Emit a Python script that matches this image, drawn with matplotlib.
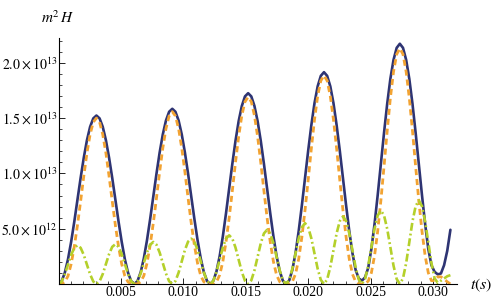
import numpy as np
import matplotlib
matplotlib.use('Agg')
import matplotlib.pyplot as plt
from matplotlib.ticker import FixedLocator, MultipleLocator

# Datos (unidades de 1e13), muestreo uniforme en t
dt = 0.000253
blue = [0, 0.026, 0.102, 0.223, 0.381, 0.564, 0.762, 0.959, 1.142, 1.300, 1.421, 1.497,
        1.523, 1.497, 1.421, 1.300, 1.142, 0.959, 0.762, 0.564, 0.381, 0.223, 0.102, 0.026,
        0, 0.027, 0.106, 0.232, 0.396, 0.587, 0.792, 0.997, 1.188, 1.352, 1.478, 1.557,
        1.584, 1.557, 1.478, 1.352, 1.188, 0.997, 0.792, 0.587, 0.396, 0.232, 0.106, 0.027,
        0, 0.029, 0.116, 0.253, 0.431, 0.639, 0.863, 1.086, 1.294, 1.472, 1.609, 1.696,
        1.725, 1.696, 1.609, 1.472, 1.294, 1.086, 0.863, 0.639, 0.431, 0.253, 0.116, 0.029,
        0, 0.033, 0.128, 0.280, 0.479, 0.710, 0.958, 1.205, 1.436, 1.635, 1.787, 1.882,
        1.915, 1.882, 1.787, 1.635, 1.436, 1.205, 0.958, 0.710, 0.479, 0.280, 0.128, 0.05,
        0.03, 0.06, 0.146, 0.318, 0.543, 0.805, 1.086, 1.367, 1.629, 1.854, 2.026, 2.135,
        2.172, 2.135, 2.026, 1.854, 1.629, 1.367, 1.086, 0.805, 0.543, 0.318, 0.17, 0.11,
        0.087, 0.095, 0.17, 0.30, 0.49]
orange = [0, 0.002, 0.018, 0.072, 0.18, 0.338, 0.531, 0.749, 0.975, 1.184, 1.352, 1.463,
          1.50, 1.463, 1.352, 1.184, 0.975, 0.749, 0.531, 0.338, 0.18, 0.072, 0.018, 0.002,
          0, 0.002, 0.019, 0.075, 0.187, 0.351, 0.552, 0.777, 1.013, 1.229, 1.404, 1.519,
          1.558, 1.519, 1.404, 1.229, 1.013, 0.777, 0.552, 0.351, 0.187, 0.075, 0.019, 0.002,
          0, 0.002, 0.020, 0.081, 0.203, 0.380, 0.598, 0.843, 1.099, 1.333, 1.523, 1.648,
          1.69, 1.648, 1.523, 1.333, 1.099, 0.843, 0.598, 0.380, 0.203, 0.081, 0.020, 0.002,
          0, 0.002, 0.023, 0.090, 0.226, 0.424, 0.667, 0.941, 1.225, 1.487, 1.698, 1.838,
          1.885, 1.838, 1.698, 1.487, 1.225, 0.941, 0.667, 0.424, 0.226, 0.090, 0.023, 0.002,
          0, 0.002, 0.026, 0.102, 0.256, 0.479, 0.754, 1.063, 1.385, 1.681, 1.919, 2.077,
          2.13, 2.077, 1.919, 1.681, 1.385, 1.063, 0.754, 0.479, 0.256, 0.102, 0.03, 0.03,
          0.065, 0.065, 0.045, 0.02, 0.0]
green = [0, 0.023, 0.088, 0.175, 0.263, 0.327, 0.35, 0.327, 0.263, 0.175, 0.088, 0.023,
         0, 0.024, 0.09, 0.18, 0.27, 0.336, 0.36, 0.336, 0.27, 0.18, 0.09, 0.024,
         0, 0.025, 0.095, 0.19, 0.285, 0.355, 0.38, 0.355, 0.285, 0.19, 0.095, 0.025,
         0, 0.027, 0.103, 0.205, 0.308, 0.383, 0.41, 0.383, 0.308, 0.205, 0.103, 0.027,
         0, 0.029, 0.11, 0.22, 0.33, 0.411, 0.44, 0.411, 0.33, 0.22, 0.11, 0.029,
         0, 0.033, 0.123, 0.245, 0.368, 0.457, 0.49, 0.457, 0.368, 0.245, 0.123, 0.033,
         0, 0.037, 0.138, 0.275, 0.413, 0.513, 0.55, 0.513, 0.413, 0.275, 0.138, 0.037,
         0, 0.041, 0.153, 0.305, 0.458, 0.569, 0.61, 0.569, 0.458, 0.305, 0.153, 0.041,
         0, 0.045, 0.166, 0.333, 0.499, 0.620, 0.665, 0.620, 0.499, 0.333, 0.166, 0.045,
         0, 0.051, 0.189, 0.378, 0.566, 0.704, 0.755, 0.704, 0.566, 0.378, 0.189, 0.051,
         0.01, 0.03, 0.05, 0.07, 0.08]

x_ticks = [0.005, 0.010, 0.015, 0.020, 0.025, 0.030]
x_labels = ['0.005', '0.010', '0.015', '0.020', '0.025', '0.030']
y_ticks = [0.5, 1.0, 1.5, 2.0]
y_labels = [r'$5.0\times10^{12}$', r'$1.0\times10^{13}$', r'$1.5\times10^{13}$', r'$2.0\times10^{13}$']

plt.rcParams['font.family'] = 'Liberation Serif'
plt.rcParams['mathtext.fontset'] = 'stix'

t = np.arange(len(blue)) * dt

fig = plt.figure(figsize=(4.98, 3.01), dpi=100)
ax = fig.add_axes([58.5 / 498, 17 / 301, (457 - 58.5) / 498, (284 - 38) / 301])

ax.plot(t, blue, color='#2e3473', linewidth=1.9, solid_capstyle='round')
ax.plot(t, orange, color='#f2a332', linewidth=2.0, linestyle=(0, (2.2, 1.4)))
ax.plot(t, green, color='#b4d02a', linewidth=1.9, linestyle=(0, (3.0, 1.1, 0.7, 1.1)))

ax.set_xlim(0, 0.0319)
ax.set_ylim(0, 2.224)

# Estilo de ejes tipo Mathematica
for s in ['top', 'right']:
    ax.spines[s].set_visible(False)
for s in ['left', 'bottom']:
    ax.spines[s].set_linewidth(0.8)

ax.xaxis.set_major_locator(FixedLocator(x_ticks))
ax.set_xticklabels(x_labels)
ax.xaxis.set_minor_locator(MultipleLocator(0.001))
ax.yaxis.set_major_locator(FixedLocator(y_ticks))
ax.set_yticklabels(y_labels)
ax.yaxis.set_minor_locator(MultipleLocator(0.1))
ax.tick_params(which='major', direction='in', length=4, width=0.6, labelsize=10, pad=1)
ax.tick_params(axis='x', which='major', pad=1.5)
ax.tick_params(which='minor', direction='in', length=2, width=0.5)

fig.text(58 / 498, 1 - 18 / 301, r'$m^2\,H$', ha='center', va='center', fontsize=11)
fig.text(470 / 498, 1 - 285 / 301, r'$t(s)$', ha='left', va='center', fontsize=11.5)

fig.savefig('out.png', dpi=100)
